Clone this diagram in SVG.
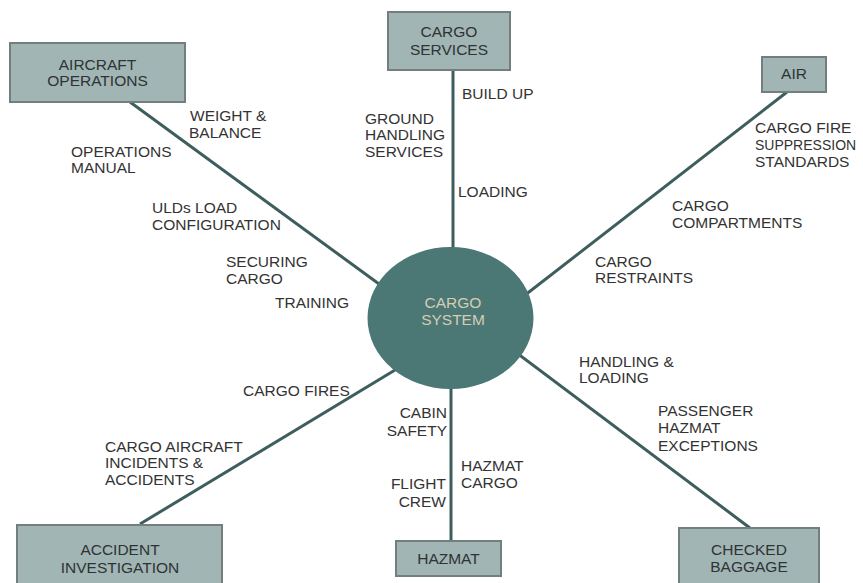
<svg xmlns="http://www.w3.org/2000/svg" width="863" height="583" viewBox="0 0 863 583">
<style>
.box{fill:#a1b5b5;stroke:#737f7f;stroke-width:2}
.bt{font-family:"Liberation Sans",Arial,sans-serif;font-size:15.5px;fill:#2e3333;text-anchor:middle}
.lb{font-family:"Liberation Sans",Arial,sans-serif;font-size:15.5px;fill:#333}
.ln{stroke:#3e5e5e;stroke-width:3;fill:none}
.ct{font-family:"Liberation Sans",Arial,sans-serif;font-size:15.5px;fill:#d6cdb5;text-anchor:middle}
</style>
<rect width="863" height="583" fill="#fff"/>
<g id="connectors">
<line class="ln" x1="130" y1="102" x2="390" y2="292"/>
<line class="ln" x1="453" y1="70" x2="453" y2="265"/>
<line class="ln" x1="787" y1="92" x2="520" y2="299"/>
<line class="ln" x1="140" y1="524" x2="400" y2="367"/>
<line class="ln" x1="451" y1="375" x2="451" y2="541"/>
<line class="ln" x1="750" y1="528" x2="505" y2="344"/>
</g>
<g id="cargo-system">
<ellipse cx="450.5" cy="318" rx="83" ry="71" fill="#4b7774"/>
<text class="ct" x="453" y="308">CARGO</text>
<text class="ct" x="453" y="325">SYSTEM</text>
</g>
<g id="aircraft-operations">
<rect class="box" x="10" y="43" width="175" height="59"/>
<text class="bt" x="97.5" y="70">AIRCRAFT</text>
<text class="bt" x="97.5" y="86">OPERATIONS</text>
</g>
<g id="cargo-services">
<rect class="box" x="388" y="12" width="122" height="58"/>
<text class="bt" x="449" y="37">CARGO</text>
<text class="bt" x="449" y="55">SERVICES</text>
</g>
<g id="air">
<rect class="box" x="762" y="57" width="64" height="35"/>
<text class="bt" x="794" y="79">AIR</text>
</g>
<g id="accident-investigation">
<rect class="box" x="17" y="525" width="205" height="64"/>
<text class="bt" x="120" y="555">ACCIDENT</text>
<text class="bt" x="120" y="573">INVESTIGATION</text>
</g>
<g id="hazmat">
<rect class="box" x="396" y="541" width="105" height="35"/>
<text class="bt" x="448.5" y="564">HAZMAT</text>
</g>
<g id="checked-baggage">
<rect class="box" x="679" y="528" width="140" height="62"/>
<text class="bt" x="749" y="555">CHECKED</text>
<text class="bt" x="749" y="572">BAGGAGE</text>
</g>
<g id="labels">
<text class="lb" x="190" y="121">WEIGHT &amp;</text>
<text class="lb" x="189" y="138">BALANCE</text>
<text class="lb" x="71" y="157">OPERATIONS</text>
<text class="lb" x="71" y="173">MANUAL</text>
<text class="lb" x="152" y="213">ULDs LOAD</text>
<text class="lb" x="152" y="230">CONFIGURATION</text>
<text class="lb" x="226" y="267">SECURING</text>
<text class="lb" x="226" y="284">CARGO</text>
<text class="lb" x="275" y="308">TRAINING</text>
<text class="lb" x="243" y="396">CARGO FIRES</text>
<text class="lb" x="105" y="452">CARGO AIRCRAFT</text>
<text class="lb" x="105" y="468">INCIDENTS &amp;</text>
<text class="lb" x="105" y="485">ACCIDENTS</text>
<text class="lb" x="447" y="418" text-anchor="end">CABIN</text>
<text class="lb" x="447" y="436" text-anchor="end">SAFETY</text>
<text class="lb" x="446" y="489" text-anchor="end">FLIGHT</text>
<text class="lb" x="446" y="507" text-anchor="end">CREW</text>
<text class="lb" x="461" y="471">HAZMAT</text>
<text class="lb" x="461" y="488">CARGO</text>
<text class="lb" x="462" y="99">BUILD UP</text>
<text class="lb" x="365" y="124">GROUND</text>
<text class="lb" x="365" y="140">HANDLING</text>
<text class="lb" x="365" y="157">SERVICES</text>
<text class="lb" x="458" y="197">LOADING</text>
<text class="lb" x="755" y="133">CARGO FIRE</text>
<text class="lb" x="755" y="150" style="font-size:14px">SUPPRESSION</text>
<text class="lb" x="755" y="167">STANDARDS</text>
<text class="lb" x="672" y="211">CARGO</text>
<text class="lb" x="672" y="228">COMPARTMENTS</text>
<text class="lb" x="595" y="267">CARGO</text>
<text class="lb" x="595" y="283">RESTRAINTS</text>
<text class="lb" x="579" y="367">HANDLING &amp;</text>
<text class="lb" x="579" y="383">LOADING</text>
<text class="lb" x="658" y="416">PASSENGER</text>
<text class="lb" x="658" y="433">HAZMAT</text>
<text class="lb" x="658" y="451">EXCEPTIONS</text>
</g>
</svg>
